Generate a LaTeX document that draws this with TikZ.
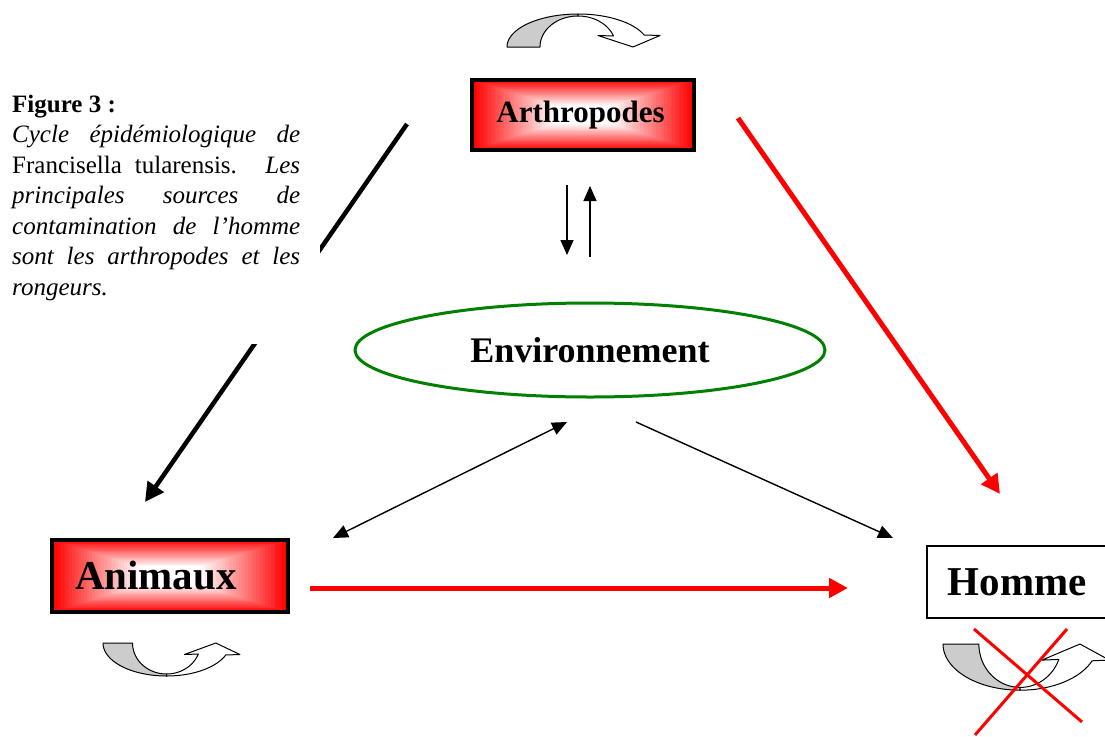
\documentclass[tikz,border=0pt]{standalone}
\usepackage{fontspec}
\setmainfont{Liberation Serif}
\usetikzlibrary{arrows.meta,calc,shapes.geometric}
\definecolor{myred}{RGB}{255,0,0}
\definecolor{mygreen}{RGB}{0,128,0}
\definecolor{mygray}{RGB}{204,204,204}
\newcommand\uturnarrow[4]{%
  \begin{scope}[shift={(#1,#2)}, xscale=#3, yscale=#4]
    \filldraw[fill=mygray, draw=black, line width=1pt, line join=round]
      plot[domain=180:270, samples=40] ({71+71*cos(\x)},{33*sin(\x)})
      -- plot[domain=270:180, samples=40] ({71+38*cos(\x)},{31*sin(\x)}) -- cycle;
    \filldraw[fill=white, draw=black, line width=1pt, line join=round]
      plot[domain=270:338.7, samples=40] ({71+71*cos(\x)},{33*sin(\x)})
      -- (153,-11.5) -- (126,0) -- (91,-11.5)
      -- plot[domain=339.2:270, samples=40] ({71+38*cos(\x)},{31*sin(\x)}) -- cycle;
  \end{scope}}
\tikzset{
  gradfill/.style={path picture={
    \foreach \i in {0,...,40}{
      \pgfmathsetmacro\p{max(0,100*(1-\i/30))}
      \fill[myred!\p!white]
        ($(path picture bounding box.north west)!{\i/82}!(path picture bounding box.south east)$)
        rectangle
        ($(path picture bounding box.south east)!{\i/82}!(path picture bounding box.north west)$);
    }}},
  redbox/.style={draw=black, line width=3.5pt, gradfill, inner sep=0pt},
  thinarrow/.style={line width=1.4pt, -{Triangle[length=15pt,width=13pt]}},
  thickblack/.style={line width=4.5pt, -{Triangle[length=19pt,width=19pt]}},
  thickred/.style={draw=myred, line width=5pt, -{Triangle[length=19pt,width=19pt]}},
}
\begin{document}
\begin{tikzpicture}[x=1pt,y=-1pt]
\useasboundingbox (0,0) rectangle (1105,736);
\clip (0,0) rectangle (1105,736);
\fill[white] (0,0) rectangle (1105,736);

% nodes
\node[redbox, minimum width=222pt, minimum height=70pt,
      font=\fontsize{31}{37}\selectfont\bfseries] (arth) at (583,115) {\hspace*{-5pt}Arthropodes};
\node[redbox, minimum width=236pt, minimum height=72pt, text width=190pt,
      inner xsep=23pt, align=left,
      font=\fontsize{41}{48}\selectfont\bfseries] (anim) at (170,576) {Animaux};
\node[draw=black, line width=1.6pt, fill=white, anchor=west, minimum height=72pt,
      text width=160pt, inner xsep=21pt, inner ysep=0pt, align=left,
      font=\fontsize{41}{48}\selectfont\bfseries] (homme) at (926,582) {Homme};
\node[ellipse, draw=mygreen, line width=3pt, minimum width=470pt, minimum height=94pt,
      inner sep=0pt, font=\fontsize{36}{42}\selectfont\bfseries] (env) at (590,350) {Environnement};

% coordinates for free connector ends
\coordinate (b1) at (407,124);
\coordinate (b2) at (145,502);
\coordinate (r1) at (738,118);
\coordinate (r2) at (1000,494);
\coordinate (h1) at (310,588);
\coordinate (h2) at (848,588);
\coordinate (d1) at (567,185);
\coordinate (d2) at (567,255);
\coordinate (u1) at (590,257);
\coordinate (u2) at (590,186);
\coordinate (e1) at (567,422);
\coordinate (e2) at (333,538);
\coordinate (f1) at (636,422);
\coordinate (f2) at (893,538);

% connectors
\draw[thickblack] (b1) -- (b2);
\draw[thickred] (r1) -- (r2);
\draw[thickred] (h1) -- (h2);
\draw[thinarrow] (d1) -- (d2);
\draw[thinarrow] (u1) -- (u2);
\draw[line width=1.4pt, {Triangle[length=15pt,width=13pt]}-{Triangle[length=15pt,width=13pt]}] (e1) -- (e2);
\draw[thinarrow] (f1) -- (f2);

% caption (covers the black arrow)
\fill[white] (5,85) rectangle (320,344);
\node[anchor=north west, inner sep=0pt, text width=288pt, align=justify,
      font=\fontsize{25}{30.5}\selectfont] (cap) at (12,94.5)
  {\textbf{Figure 3 :}\\
   \textit{Cycle épidémiologique de}\linebreak
   Francisella tularensis. \textit{Les}\linebreak
   \textit{principales sources de}\linebreak
   \textit{contamination de l’homme}\linebreak
   \textit{sont les arthropodes et les}\linebreak
   \textit{rongeurs.}};

% curved arrows
\uturnarrow{507}{47}{1}{1}
\uturnarrow{103}{643}{0.895}{-1}
\uturnarrow{943}{644}{1.087}{-1.4}

% red cross
\draw[myred, line width=3pt] (974,629) -- (1082,722);
\draw[myred, line width=3pt] (1067,629) -- (975,735);
\end{tikzpicture}
\end{document}
